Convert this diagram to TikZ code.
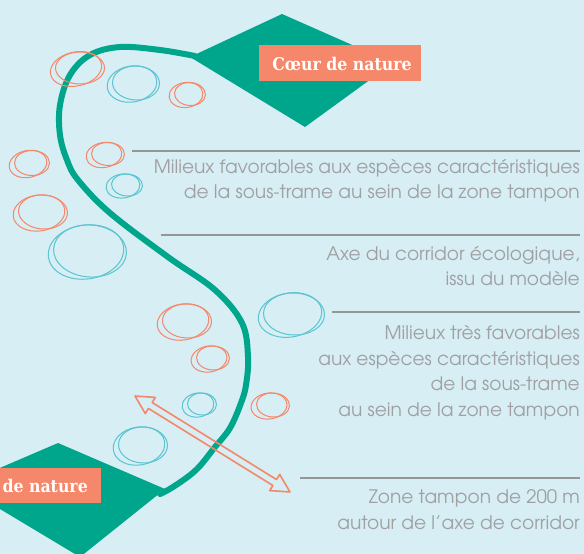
\documentclass[tikz,border=0pt]{standalone}
\usepackage{fontspec}
\newfontfamily\advfont{TeX Gyre Adventor}
\newfontfamily\lblfont{DejaVu Serif}[FakeStretch=0.9]
\usetikzlibrary{calc}
\definecolor{bgc}{RGB}{214,238,244}
\definecolor{grn}{RGB}{0,166,140}
\definecolor{org}{RGB}{245,135,106}
\definecolor{cyn}{RGB}{91,196,208}
\definecolor{gline}{RGB}{150,150,152}
\definecolor{gtxt}{RGB}{160,160,163}
\newcommand\mkblob[6]{%
  \draw[blob,#1,rotate around={#6:(#2,#3)}] (#2,#3) ellipse [x radius=#4pt,y radius=#5pt];
  \pgfmathsetmacro\bx{#2+4}\pgfmathsetmacro\by{#3-1}%
  \pgfmathsetmacro\brx{#4-1.5}\pgfmathsetmacro\bry{#5-1}\pgfmathsetmacro\ba{#6-12}%
  \draw[blob,#1,rotate around={\ba:(\bx,\by)}] (\bx,\by) ellipse [x radius=\brx pt,y radius=\bry pt];
}
\tikzset{
  blob/.style={line width=1pt},
  corridor/.style={grn, line width=6pt, line cap=round, line join=round},
  coeur/.style={fill=grn, draw=none},
  lbltext/.style={text=white, font=\lblfont\bfseries\fontsize{17.5}{20}\selectfont, inner sep=0pt},
  gtext/.style={text=gtxt, font=\advfont\fontsize{18.6}{20}\selectfont, anchor=base east, inner sep=0pt},
  legline/.style={gline, line width=2pt},
  zone/.style={org, line width=1.6pt, line join=round},
}
\begin{document}
\begin{tikzpicture}[x=1pt,y=-1pt]
\useasboundingbox (0,0) rectangle (584,554);
\fill[bgc] (0,0) rectangle (584,554);
% coeurs de nature
\fill[coeur] (190,57) -- (282,14) -- (393,63) -- (305,127) -- cycle;
\fill[coeur] (-40,485) -- (58,443) -- (165,489) -- (80,557) -- cycle;
% corridor axis
\draw[corridor] plot[smooth, tension=0.6] coordinates {(195,56) (160,50) (120,47) (90,55) (70,75) (60,105) (60,135) (67,160) (78,180) (110,213) (168,257) (215,290) (242,323) (248,357) (246,385) (241,403) (230,428) (215,447) (196,470) (173,487) (160,494)};
% habitats
\mkblob{org}{76}{69}{26}{17}{12}
\mkblob{org}{186}{95}{17}{12.5}{8}
\mkblob{org}{104}{155}{18}{12.5}{10}
\mkblob{org}{28}{164}{19}{13.5}{12}
\mkblob{org}{39}{213}{26}{18}{8}
\mkblob{org}{183}{322}{26}{18}{10}
\mkblob{org}{209}{359}{18}{13}{10}
\mkblob{org}{269}{406}{18}{13}{8}
\mkblob{cyn}{132}{84}{25}{18}{10}
\mkblob{cyn}{123}{186}{17}{12}{8}
\mkblob{cyn}{86}{252}{38}{27}{8}
\mkblob{cyn}{290}{315}{32}{22}{10}
\mkblob{cyn}{198}{405}{16}{12}{10}
\mkblob{cyn}{139}{446}{26}{19}{10}
% buffer zone arrow
\coordinate (arrA) at (135,396);
\coordinate (arrB) at (290,492);
\begin{scope}[shift={(arrA)}, rotate=-31.77]
\draw[zone] (0,0) -- (18,9.5) -- (18,3.5) -- (164.3,3.5) -- (164.3,9.5) -- (182.3,0) -- (164.3,-9.5) -- (164.3,-3.5) -- (18,-3.5) -- (18,-9.5) -- cycle;
\end{scope}
% labels
\fill[org] (259,45) rectangle (421,81);
\node[lbltext, anchor=base] (c1) at (342,70) {Cœur de nature};
\fill[org] (0,468) rectangle (101,503);
\node[lbltext, anchor=base east] (c2) at (88,492) {de nature};
% legend lines
\coordinate (l1a) at (132,151); \coordinate (l1b) at (580,151);
\coordinate (l2a) at (161,235); \coordinate (l2b) at (580,235);
\coordinate (l3a) at (332,312); \coordinate (l3b) at (580,312);
\coordinate (l4a) at (300,478); \coordinate (l4b) at (580,478);
\draw[legline] (l1a) -- (l1b);
\draw[legline] (l2a) -- (l2b);
\draw[legline] (l3a) -- (l3b);
\draw[legline] (l4a) -- (l4b);
% legend texts
\node[gtext] (t1a) at (580,173) {Milieux favorables aux espèces caractéristiques};
\node[gtext] (t1b) at (580,198) {de la sous-trame au sein de la zone tampon};
\node[gtext] (t2a) at (580,260) {Axe du corridor écologique,};
\node[gtext] (t2b) at (580,285) {issu du modèle};
\node[gtext] (t3a) at (580,339) {Milieux très favorables};
\node[gtext] (t3b) at (580,365) {aux espèces caractéristiques};
\node[gtext] (t3c) at (580,390) {de la sous-trame};
\node[gtext] (t3d) at (580,416) {au sein de la zone tampon};
\node[gtext] (t4a) at (580,503) {Zone tampon de 200 m};
\node[gtext] (t4b) at (580,529) {autour de l’axe de corridor};
\end{tikzpicture}
\end{document}
